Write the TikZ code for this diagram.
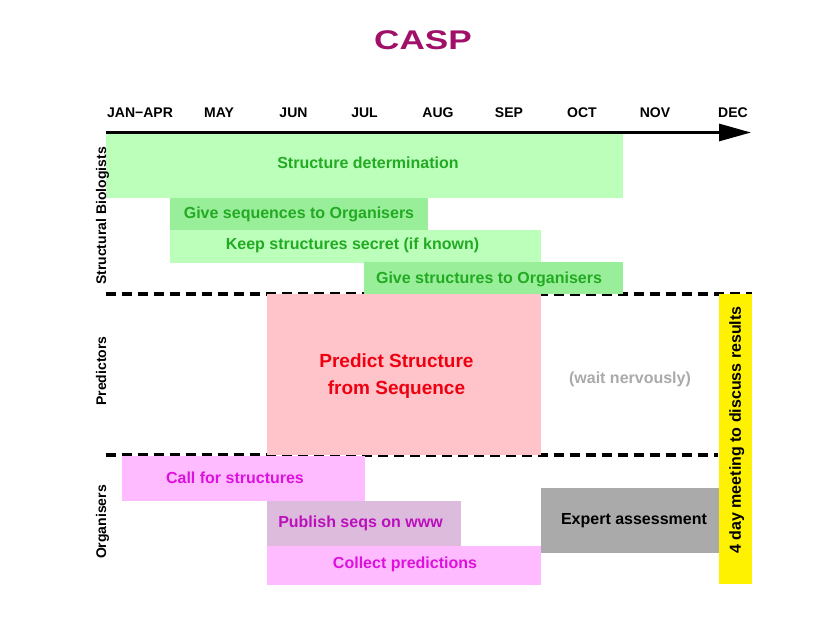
\documentclass[tikz,border=0pt]{standalone}
\usepackage{fontspec}
\setmainfont{Liberation Sans}
\usetikzlibrary{arrows.meta}
\definecolor{lgreen}{HTML}{BBFFBB}
\definecolor{mgreen}{HTML}{99EE99}
\definecolor{gtext}{HTML}{22AA22}
\definecolor{pinkbox}{HTML}{FFC4CA}
\definecolor{redtext}{HTML}{EE0011}
\definecolor{magbox}{HTML}{FFBBFF}
\definecolor{pubbox}{HTML}{DDBBDD}
\definecolor{magtext}{HTML}{DD11DD}
\definecolor{graybox}{HTML}{AAAAAA}
\definecolor{waittext}{HTML}{AAAAAA}
\definecolor{titlecol}{HTML}{A01068}
\begin{document}
\begin{tikzpicture}[x=1pt,y=-1pt,
  box/.style={draw=none, inner sep=0pt, outer sep=0pt, anchor=north west},
  txt/.style={inner sep=0pt, outer sep=0pt, text height=11.5pt, text depth=0pt, font=\bfseries\fontsize{16}{19}\selectfont},
  month/.style={inner sep=0pt, text height=10pt, text depth=0pt, font=\bfseries\fontsize{14}{16}\selectfont},
  rowlbl/.style={inner sep=0pt, text height=10pt, text depth=0pt, rotate=90, font=\bfseries\fontsize{14}{16}\selectfont},
  dashline/.style={line width=3.5pt, dash pattern=on 10pt off 6pt},
  axisline/.style={line width=3pt, -{Triangle[length=32pt,width=17pt]}}]
\useasboundingbox (0,0) rectangle (838,618);
\fill[white] (0,0) rectangle (838,618);
% title
\node[inner sep=0pt, text height=19.4pt, text depth=0pt, text=titlecol,
  font=\bfseries\fontsize{27}{30}\selectfont] (title) at (423,40) {\scalebox{1.3}[1]{CASP}};
% months
\node[month] (m1) at (140,112) {JAN−APR};
\node[month] (m2) at (219,112) {MAY};
\node[month] (m3) at (293.5,112) {JUN};
\node[month] (m4) at (364.5,112) {JUL};
\node[month] (m5) at (438,112) {AUG};
\node[month] (m6) at (509,112) {SEP};
\node[month] (m7) at (582,112) {OCT};
\node[month] (m8) at (655,112) {NOV};
\node[month] (m9) at (733,112) {DEC};
% axis
\coordinate (axs) at (106,132.5);
\coordinate (axe) at (751,132.5);
\draw[axisline] (axs) -- (axe);
% dashed separators
\coordinate (d1s) at (106,294);
\coordinate (d1e) at (752,294);
\coordinate (d2s) at (106,455);
\coordinate (d2e) at (718,455);
\draw[dashline] (d1s) -- (d1e);
\draw[dashline] (d2s) -- (d2e);
% structural biologists
\node[box, fill=lgreen, minimum width=517pt, minimum height=64pt] (sd) at (106,133.5) {};
\node[box, fill=mgreen, minimum width=258pt, minimum height=32pt] (gs) at (170,197.5) {};
\node[box, fill=lgreen, minimum width=371pt, minimum height=33pt] (ks) at (170,229.5) {};
\node[box, fill=mgreen, minimum width=259pt, minimum height=32pt] (gst) at (364,262) {};
\node[txt, text=gtext] (sdt) at (368,163) {Structure determination};
\node[txt, text=gtext] (gsq) at (299,212.5) {Give sequences to Organisers};
\node[txt, text=gtext] (kst) at (352.5,244) {Keep structures secret (if known)};
\node[txt, text=gtext] (gstt) at (489,277.5) {Give structures to Organisers};
% predictors
\node[box, fill=pinkbox, minimum width=274pt, minimum height=161pt] (ps) at (267,294) {};
\node[inner sep=0pt, align=center, text=redtext, font=\bfseries\fontsize{19}{27.5}\selectfont] (pst) at (396.5,376.3) {Predict Structure\\from Sequence};
\node[txt, text=waittext] (wn) at (630,377.5) {(wait nervously)};
% organisers
\node[box, fill=magbox, minimum width=243pt, minimum height=44.5pt] (cs) at (122,456) {};
\node[box, fill=pubbox, minimum width=194pt, minimum height=45pt] (pw) at (267,500.5) {};
\node[box, fill=magbox, minimum width=274pt, minimum height=39.5pt] (cp) at (267,545.5) {};
\node[box, fill=graybox, minimum width=178pt, minimum height=65pt] (ea) at (541,488) {};
\node[txt, text=magtext] (cst) at (235,477.5) {Call for structures};
\node[txt, text=magtext!85!black] (pwt) at (360.5,522) {Publish seqs on www};
\node[txt, text=magtext] (cpt) at (405,563) {Collect predictions};
\node[txt, text=black] (eat) at (634,519) {Expert assessment};
% meeting
\node[box, fill=yellow, minimum width=33pt, minimum height=290pt] (mt) at (719,294) {};
\node[txt, rotate=90, text=black] (mtt) at (735,430) {4 day meeting to discuss results};
% row labels
\node[rowlbl] (rsb) at (101,216) {Structural Biologists};
\node[rowlbl] (rpr) at (101,371) {Predictors};
\node[rowlbl] (ror) at (101,522) {Organisers};
\end{tikzpicture}
\end{document}
